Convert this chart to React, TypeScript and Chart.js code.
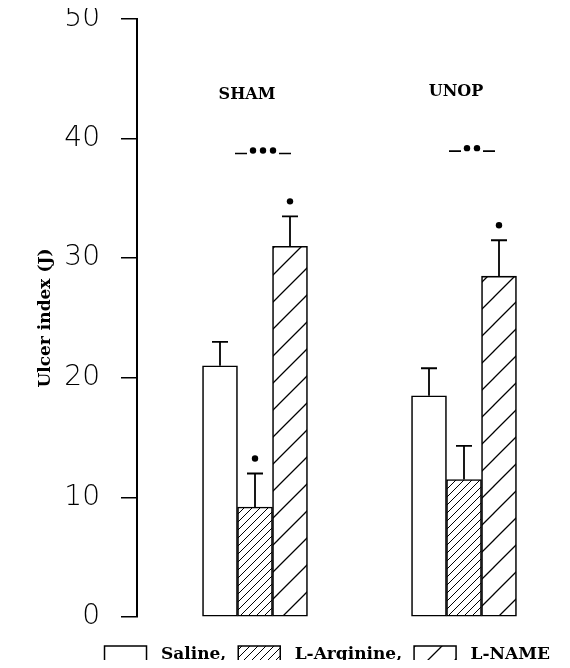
import React, { useEffect, useRef } from "react";
import { Chart, registerables } from "chart.js";

Chart.register(...registerables);

// ---- data ----
const groups = ["SHAM", "UNOP"];
const groupX = [0, 1];
const seriesNames = ["Saline,", "L-Arginine,", "L-NAME"];
const saline = [21.0, 18.5];
const salineErr = [2.0, 2.3];
const lArginine = [9.2, 11.5];
const lArginineErr = [2.8, 2.8];
const lName = [31.0, 28.5];
const lNameErr = [2.5, 3.0];
const salineStar = [false, false];
const lArginineStar = [true, false];
const lNameStar = [true, true];
const groupSignificance = [3, 2]; // number of asterisks between Saline and L-NAME
const groupLabelY = [43.7, 43.9];
const significanceY = [39.0, 39.2];
const yTicks = [0, 10, 20, 30, 40, 50];
const yTitle = "Ulcer index (J)";

function makeHatch(size: number, lw: number): CanvasPattern | string {
  const c = document.createElement("canvas");
  c.width = size;
  c.height = size;
  const g = c.getContext("2d");
  if (!g) return "#fff";
  g.fillStyle = "#fff";
  g.fillRect(0, 0, size, size);
  g.strokeStyle = "#000";
  g.lineWidth = lw;
  g.beginPath();
  g.moveTo(-1, size + 1);
  g.lineTo(size + 1, -1);
  g.moveTo(-size / 2, size / 2);
  g.lineTo(size / 2, -size / 2);
  g.moveTo(size / 2, size * 1.5);
  g.lineTo(size * 1.5, size / 2);
  g.stroke();
  const p = g.createPattern(c, "repeat");
  return p || "#fff";
}

const annotPlugin = {
  id: "annot",
  afterDatasetsDraw(chart: any) {
    const ctx = chart.ctx as CanvasRenderingContext2D;
    const xs = chart.scales.x;
    const ys = chart.scales.y;
    const errs = [salineErr, lArginineErr, lNameErr];
    const stars = [salineStar, lArginineStar, lNameStar];
    ctx.save();
    ctx.strokeStyle = "#000";
    ctx.fillStyle = "#000";
    chart.data.datasets.forEach((ds: any, di: number) => {
      const meta = chart.getDatasetMeta(di);
      meta.data.forEach((bar: any, i: number) => {
        const v = ds.data[i].y;
        const top = ys.getPixelForValue(v + errs[di][i]);
        const x = bar.x;
        ctx.lineWidth = 1.8;
        ctx.beginPath();
        ctx.moveTo(x, bar.y);
        ctx.lineTo(x, top);
        ctx.moveTo(x - 8, top);
        ctx.lineTo(x + 8, top);
        ctx.stroke();
        if (stars[di][i]) {
          ctx.beginPath();
          ctx.arc(x, top - 15, 3.2, 0, Math.PI * 2);
          ctx.fill();
        }
      });
    });
    // group labels
    ctx.font = "bold 16px 'DejaVu Serif', serif";
    ctx.textAlign = "center";
    ctx.textBaseline = "middle";
    groups.forEach((g, i) => {
      const cx = xs.getPixelForValue(groupX[i]) - 8;
      ctx.fillText(g, cx, ys.getPixelForValue(groupLabelY[i]));
    });
    // significance markers
    groupSignificance.forEach((n, i) => {
      const cx = xs.getPixelForValue(groupX[i]) + 8;
      const cy = ys.getPixelForValue(significanceY[i]);
      const dotGap = 10;
      const half = ((n - 1) * dotGap) / 2;
      for (let k = 0; k < n; k++) {
        ctx.beginPath();
        ctx.arc(cx - half + k * dotGap, cy, 3.2, 0, Math.PI * 2);
        ctx.fill();
      }
      ctx.lineWidth = 1.6;
      ctx.beginPath();
      ctx.moveTo(cx - half - 18, cy + 3);
      ctx.lineTo(cx - half - 6, cy + 3);
      ctx.moveTo(cx + half + 6, cy + 3);
      ctx.lineTo(cx + half + 18, cy + 3);
      ctx.stroke();
    });
    ctx.restore();
  },
};

export default function App() {
  const ref = useRef<HTMLCanvasElement | null>(null);
  useEffect(() => {
    if (!ref.current) return;
    const denseHatch = makeHatch(8, 1);
    const wideHatch = makeHatch(27, 1.3);
    const fills = ["#ffffff", denseHatch, wideHatch];
    const values = [saline, lArginine, lName];
    const chart = new Chart(ref.current, {
      type: "bar",
      data: {
        datasets: seriesNames.map((name, di) => ({
          label: name,
          data: groupX.map((x, i) => ({ x, y: values[di][i] })),
          backgroundColor: fills[di] as any,
          borderColor: "#000",
          borderWidth: 1.6,
          borderSkipped: false,
          barThickness: 35,
        })),
      },
      options: {
        animation: false,
        responsive: true,
        maintainAspectRatio: false,
        events: [],
        layout: { padding: { top: 19, right: 0, bottom: -6, left: 0 } },
        plugins: {
          tooltip: { enabled: false },
          legend: {
            position: "bottom",
            align: "end",
            labels: {
              boxWidth: 42,
              boxHeight: 18,
              padding: 12,
              color: "#000",
              font: { family: "'DejaVu Serif', serif", size: 17, weight: "bold" },
              generateLabels: (chart: any) =>
                chart.data.datasets.map((ds: any, i: number) => ({
                  text: " " + ds.label,
                  fillStyle: ds.backgroundColor,
                  strokeStyle: "#000",
                  lineWidth: 1.5,
                  hidden: false,
                  datasetIndex: i,
                  fontColor: "#000",
                })),
            },
          },
        },
        scales: {
          x: {
            type: "linear",
            min: -0.5646,
            max: 1.4689,
            offset: false,
            display: true,
            ticks: { display: false },
            grid: { display: false, drawTicks: false },
            border: { display: false },
            afterFit: (s: any) => {
              s.height = 17;
            },
          },
          y: {
            min: 0,
            max: 50,
            afterBuildTicks: (s: any) => {
              s.ticks = yTicks.map((v) => ({ value: v }));
            },
            afterFit: (s: any) => {
              s.width = 129;
              s.paddingTop = 0;
              s.paddingBottom = 0;
            },
            ticks: {
              color: "#000",
              padding: 21,
              font: { family: "'DejaVu Sans', sans-serif", size: 28, weight: "300" },
            },
            grid: {
              drawOnChartArea: false,
              drawTicks: true,
              tickLength: 16,
              color: "#000",
              lineWidth: 1.5,
            },
            border: { display: true, color: "#000", width: 2 },
            title: {
              display: true,
              text: yTitle,
              color: "#000",
              font: { family: "'DejaVu Serif', serif", size: 17, weight: "bold" },
              padding: { top: 27, bottom: 0 },
            },
          },
        },
      },
      plugins: [annotPlugin],
    } as any);
    return () => chart.destroy();
  }, []);
  return (
    <div style={{ width: 554, height: 668, marginTop: -8, marginBottom: -8, position: "relative" }}>
      <canvas ref={ref} />
    </div>
  );
}
